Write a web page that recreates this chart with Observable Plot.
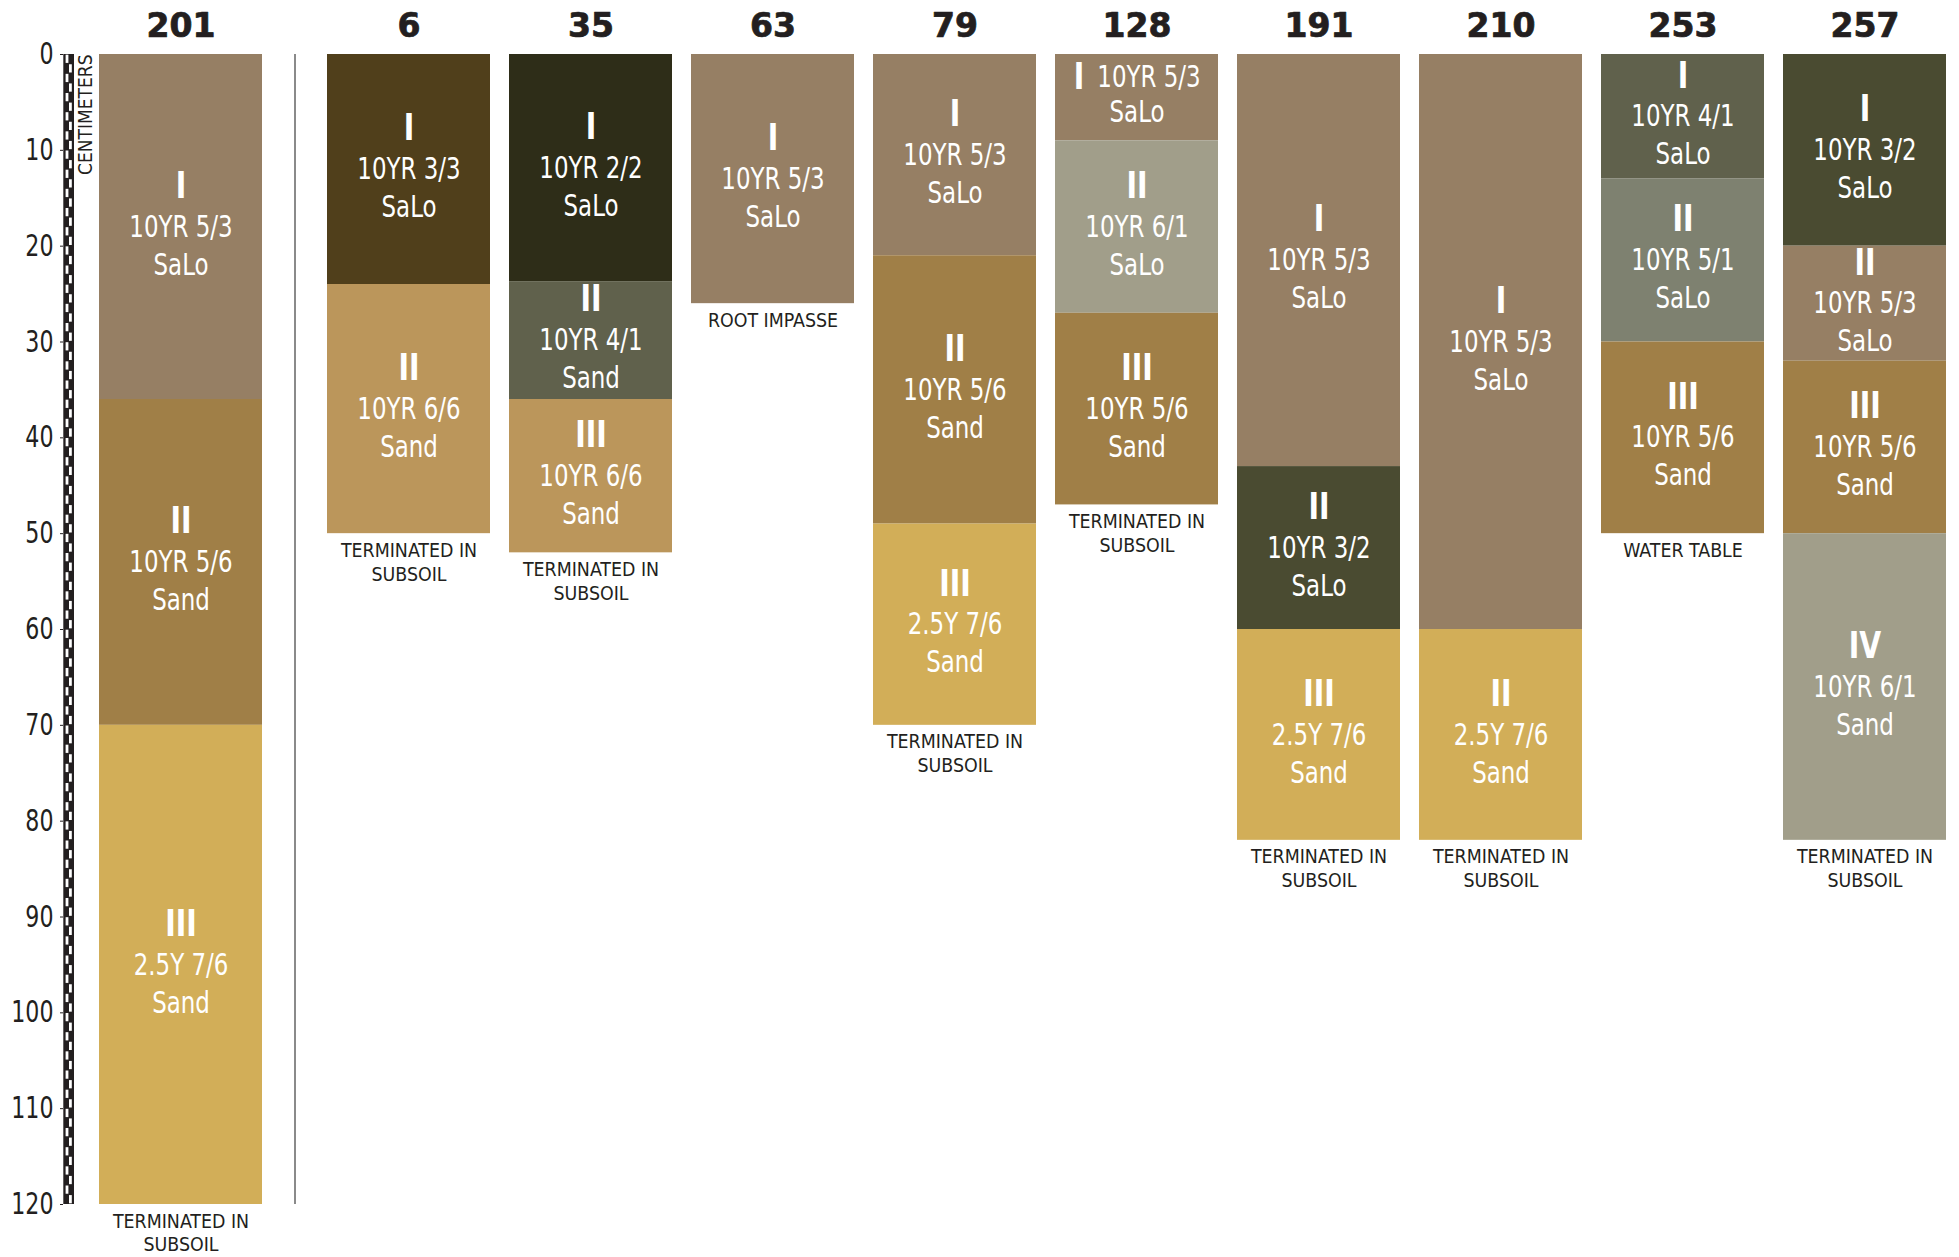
<!DOCTYPE html>
<html>
<head>
<meta charset="utf-8">
<script src="https://cdn.jsdelivr.net/npm/d3@7"></script>
<script src="https://cdn.jsdelivr.net/npm/@observablehq/plot@0.6"></script>
<style>
  html, body { margin: 0; padding: 0; background: #fff; }
  #chart svg { display: block; font-stretch: condensed; }
</style>
</head>
<body>
<div id="chart"></div>
<script>
// ---------- DATA ----------
const profiles = ["201","6","35","63","79","128","191","210","253","257"];
const profileNotes = [
  "TERMINATED IN\nSUBSOIL","TERMINATED IN\nSUBSOIL","TERMINATED IN\nSUBSOIL","ROOT IMPASSE",
  "TERMINATED IN\nSUBSOIL","TERMINATED IN\nSUBSOIL","TERMINATED IN\nSUBSOIL","TERMINATED IN\nSUBSOIL",
  "WATER TABLE","TERMINATED IN\nSUBSOIL"
];

const horizonProfile = ["201","201","201","6","6","35","35","35","63","79","79","79","128","128","128","191","191","191","210","210","253","253","253","257","257","257","257"];
const horizonName    = ["I","II","III","I","II","I","II","III","I","I","II","III","I","II","III","I","II","III","I","II","I","II","III","I","II","III","IV"];
const horizonTop     = [0,36,70, 0,24, 0,23.7,36, 0, 0,21,49, 0,9,27, 0,43,60, 0,60, 0,13,30, 0,20,32,50];
const horizonBottom  = [36,70,120, 24,50, 23.7,36,52, 26, 21,49,70, 9,27,47, 43,60,82, 60,82, 13,30,50, 20,32,50,82];
const horizonMunsell = ["10YR 5/3","10YR 5/6","2.5Y 7/6", "10YR 3/3","10YR 6/6", "10YR 2/2","10YR 4/1","10YR 6/6", "10YR 5/3",
                        "10YR 5/3","10YR 5/6","2.5Y 7/6", "10YR 5/3","10YR 6/1","10YR 5/6", "10YR 5/3","10YR 3/2","2.5Y 7/6",
                        "10YR 5/3","2.5Y 7/6", "10YR 4/1","10YR 5/1","10YR 5/6", "10YR 3/2","10YR 5/3","10YR 5/6","10YR 6/1"];
const horizonTexture = ["SaLo","Sand","Sand", "SaLo","Sand", "SaLo","Sand","Sand", "SaLo",
                        "SaLo","Sand","Sand", "SaLo","SaLo","Sand", "SaLo","SaLo","Sand",
                        "SaLo","Sand", "SaLo","SaLo","Sand", "SaLo","SaLo","Sand","Sand"];

const munsellCodes = ["10YR 2/2","10YR 3/2","10YR 3/3","10YR 4/1","10YR 5/1","10YR 5/3","10YR 5/6","10YR 6/1","10YR 6/6","2.5Y 7/6"];
const munsellHex   = ["#2e2d18","#4a4b31","#503f1b","#60614c","#7e8170","#967f64","#a07f47","#a19e8a","#bb965b","#d2ae58"];

const depthTicks = d3.range(0, 121, 10);
const maxDepth = 120;

// ---------- LAYOUT (styling) ----------
const W = 1959, H = 1257;
const STEP = 182;                 // px per profile slot
const BAR = 163 / STEP;           // bar width in slots
const FIRST_GAP = 228 / STEP;     // offset between reference profile and the rest
const X0 = 99;                    // pixel of slot 0
const ML = 63;
const px = p => (p - X0) / STEP;  // pixel -> slot units (for decorations)

const CONDENSED = "'Liberation Sans Narrow', 'DejaVu Sans Condensed', 'Roboto Condensed', 'Arial Narrow', sans-serif";
const HEAVY = "'DejaVu Sans', 'Liberation Sans', sans-serif";
const INK = "#231f20";

const slotOf = p => { const i = profiles.indexOf(p); return i === 0 ? 0 : FIRST_GAP + (i - 1); };

const horizons = horizonProfile.map((p, i) => ({
  profile: p,
  name: horizonName[i],
  top: horizonTop[i],
  bottom: horizonBottom[i],
  munsell: horizonMunsell[i],
  texture: horizonTexture[i],
  x1: slotOf(p),
  x2: slotOf(p) + BAR,
  xc: slotOf(p) + BAR / 2,
  mid: (horizonTop[i] + horizonBottom[i]) / 2,
  inline: (horizonBottom[i] - horizonTop[i]) < 12
}));
const normal = horizons.filter(d => !d.inline);
const inlineH = horizons.filter(d => d.inline);

const profileRows = profiles.map((p, i) => ({
  profile: p,
  xc: slotOf(p) + BAR / 2,
  bottom: d3.max(horizons.filter(h => h.profile === p), h => h.bottom),
  note: profileNotes[i]
}));

// checkered depth scale
const cells = d3.range(maxDepth).flatMap(i => [
  {y1: i + 0.07, y2: i + 0.93, x1: px(65.6), x2: px(68.4), white: i % 2 === 0},
  {y1: i + 0.07, y2: i + 0.93, x1: px(69.0), x2: px(71.8), white: i % 2 === 1}
]).filter(d => d.white);

const lab = {fill: "#fff", ariaDescription: "narrow"};

const chart = Plot.plot({
  width: W,
  height: H,
  marginLeft: ML,
  marginRight: 0,
  marginTop: 54,
  marginBottom: 53,
  style: {fontFamily: CONDENSED, color: INK, background: "#fff", overflow: "visible"},
  x: {type: "linear", domain: [px(ML), px(W)], axis: null},
  y: {domain: [0, maxDepth], reverse: true},
  color: {domain: munsellCodes, range: munsellHex},
  marks: [
    // depth axis
    Plot.axisY(depthTicks, {anchor: "left", tickSize: 3, tickPadding: 7, fontSize: 30, label: null, fontFamily: CONDENSED, stroke: INK}),
    // checkered ruler
    Plot.rect([{y1: 0, y2: maxDepth}], {x1: px(63.3), x2: px(74), y1: "y1", y2: "y2", fill: INK}),
    Plot.rect(cells, {x1: "x1", x2: "x2", y1: "y1", y2: "y2", fill: "#fff"}),
    Plot.text(["CENTIMETERS"], {x: px(85), y: 0, rotate: -90, textAnchor: "end", fontSize: 19, fill: INK, ariaDescription: "cm"}),
    // separator
    Plot.ruleX([(BAR + FIRST_GAP) / 2], {y1: 0, y2: maxDepth, stroke: "#8a8a8a", strokeWidth: 2}),
    // horizons
    Plot.rect(horizons, {x1: "x1", x2: "x2", y1: "top", y2: "bottom", fill: "munsell"}),
    // labels (normal)
    Plot.text(normal, {x: "xc", y: "mid", text: "name", dy: -41, fontSize: 37, fontWeight: "bold", ...lab}),
    Plot.text(normal, {x: "xc", y: "mid", text: "munsell", dy: 0, fontSize: 30, ...lab}),
    Plot.text(normal, {x: "xc", y: "mid", text: "texture", dy: 38, fontSize: 30, ...lab}),
    // labels (thin horizons)
    Plot.text(inlineH, {x: "xc", y: "mid", text: "name", dx: -58, dy: -20, fontSize: 37, fontWeight: "bold", ...lab}),
    Plot.text(inlineH, {x: "xc", y: "mid", text: "munsell", dx: 12, dy: -20, fontSize: 30, ...lab}),
    Plot.text(inlineH, {x: "xc", y: "mid", text: "texture", dy: 15, fontSize: 30, ...lab}),
    // headers
    Plot.text(profileRows, {x: "xc", y: 0, text: "profile", dy: -28, fontSize: 34, fontWeight: "bold", fontFamily: HEAVY, fill: INK, stroke: INK, strokeWidth: 0.7, ariaDescription: "head"}),
    // bottom notes
    Plot.text(profileRows, {x: "xc", y: "bottom", text: "note", lineAnchor: "top", dy: 6, fontSize: 19, lineHeight: 1.26, fill: INK, ariaDescription: "note"})
  ]
});

// horizontal compression / expansion of text to mimic the original typefaces
function squeeze(selector, sx) {
  chart.querySelectorAll(selector).forEach(t => {
    const tr = t.getAttribute("transform") || "";
    t.setAttribute("transform", `${tr} scale(${sx},1)`.trim());
  });
}
squeeze('g[aria-description="narrow"] text', 0.85);
squeeze('g[aria-label="y-axis tick label"] text', 0.82);
squeeze('g[aria-description="head"] text', 1.08);
squeeze('g[aria-description="note"] text', 1.02);

document.getElementById("chart").appendChild(chart);
</script>
</body>
</html>
